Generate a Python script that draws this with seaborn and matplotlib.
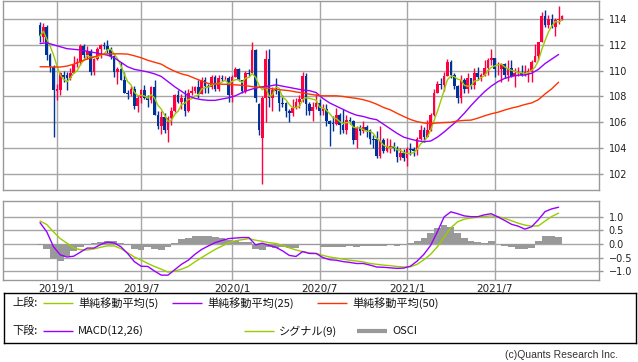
import numpy as np
import pandas as pd
import matplotlib
matplotlib.use('Agg')
import matplotlib.pyplot as plt
import seaborn as sns

# 週足 USD/JPY (2018/12/3 週 ～ 2021/11/22 週)
first_week = '2018-12-03'

opens = [
    113.5, 112.6, 113.4, 111.2, 110.3, 108.45, 108.5, 109.7, 109.7, 109.4,
    109.8, 110.5, 110.7, 111.9, 111.2, 111.5, 109.9, 110.9, 111.7, 112.0,
    111.9, 111.6, 111.1, 109.9, 110.1, 109.3, 108.3, 108.2, 108.6, 107.3,
    107.9, 108.5, 107.9, 107.7, 108.7, 106.6, 105.7, 106.4, 105.4, 106.3,
    106.9, 108.1, 107.6, 107.9, 106.9, 108.3, 108.4, 108.7, 108.2, 109.3,
    108.8, 108.7, 109.5, 108.6, 109.4, 109.4, 109.4, 108.1, 109.5, 110.1,
    109.3, 108.4, 109.8, 109.8, 111.6, 107.4, 104.8, 107.9, 110.9, 107.9,
    108.5, 108.4, 107.5, 107.5, 106.9, 106.7, 107.1, 107.6, 107.8, 109.6,
    107.4, 106.9, 107.2, 107.5, 106.9, 107.0, 106.1, 105.9, 105.9, 106.6,
    105.8, 105.4, 106.2, 106.1, 104.6, 105.6, 105.3, 105.6, 105.4, 104.7,
    104.7, 103.4, 104.6, 103.8, 104.1, 104.2, 104.0, 103.3, 103.6, 103.2,
    103.9, 103.9, 103.8, 104.7, 105.4, 104.9, 105.4, 106.6, 108.3, 109.0,
    108.9, 109.6, 110.7, 109.7, 108.8, 107.9, 109.3, 108.6, 109.4, 108.9,
    109.8, 109.5, 109.7, 110.2, 110.8, 111.0, 110.1, 110.1, 110.5, 109.7,
    110.2, 109.6, 109.8, 109.8, 109.7, 109.9, 109.9, 110.7, 111.1, 112.2,
    114.2, 113.5, 114.0, 113.4, 113.9, 114.0,
]
highs = [
    113.8, 113.7, 113.5, 111.4, 110.4, 109.0, 109.9, 110.0, 109.9, 110.2,
    111.1, 111.0, 112.1, 112.1, 111.9, 111.7, 111.0, 111.8, 112.1, 112.2,
    112.4, 111.8, 111.2, 110.3, 110.7, 109.9, 108.5, 108.8, 108.8, 108.1,
    108.6, 108.9, 108.1, 108.8, 109.3, 106.9, 106.9, 106.7, 106.5, 107.2,
    108.2, 108.5, 108.2, 108.5, 108.6, 108.8, 108.8, 109.3, 109.5, 109.5,
    109.0, 109.7, 109.7, 109.7, 109.7, 109.6, 109.6, 109.7, 110.3, 110.2,
    109.3, 110.0, 110.1, 112.2, 111.7, 107.5, 108.0, 111.6, 111.7, 108.7,
    109.4, 108.5, 108.1, 107.6, 107.0, 107.8, 107.9, 108.1, 109.9, 109.8,
    107.6, 107.6, 108.2, 107.8, 107.4, 107.4, 106.2, 106.5, 107.1, 106.7,
    107.0, 106.6, 106.4, 106.2, 105.7, 105.8, 106.1, 105.8, 105.5, 105.0,
    105.3, 105.7, 104.8, 104.8, 104.7, 104.5, 104.2, 104.0, 103.9, 104.1,
    104.4, 104.1, 104.9, 105.8, 105.6, 106.2, 106.7, 108.6, 109.2, 109.4,
    109.9, 110.9, 110.8, 109.8, 108.9, 109.7, 109.4, 109.8, 109.4, 110.2,
    110.3, 109.8, 110.8, 111.0, 111.7, 111.0, 110.7, 110.6, 110.6, 110.8,
    110.8, 110.2, 110.3, 110.4, 110.4, 110.2, 110.8, 112.1, 112.2, 114.5,
    114.7, 114.3, 114.4, 114.1, 115.0, 114.3,
]
lows = [
    112.2, 112.2, 110.8, 109.9, 104.9, 107.7, 108.1, 109.1, 108.5, 109.3,
    109.8, 110.3, 110.4, 111.0, 110.9, 109.7, 109.7, 110.8, 111.0, 111.7,
    111.4, 110.9, 109.5, 109.0, 109.3, 108.3, 107.8, 108.0, 107.0, 106.8,
    107.5, 107.8, 107.2, 107.5, 106.6, 105.5, 105.1, 105.2, 104.5, 105.8,
    106.8, 107.5, 107.0, 106.5, 106.8, 108.1, 108.3, 107.9, 108.2, 108.3,
    108.3, 108.6, 108.4, 108.4, 109.2, 109.3, 107.6, 107.6, 109.5, 109.2,
    108.3, 108.3, 109.6, 109.8, 107.6, 105.0, 101.2, 106.0, 107.2, 106.9,
    108.2, 106.9, 107.2, 106.4, 106.0, 106.5, 107.0, 107.1, 107.6, 106.6,
    106.6, 106.1, 107.0, 106.6, 106.6, 105.7, 104.2, 105.3, 105.8, 105.1,
    105.2, 105.1, 105.9, 104.3, 104.0, 105.0, 105.2, 104.9, 104.3, 104.0,
    103.2, 103.2, 103.6, 103.7, 103.6, 103.8, 102.9, 103.1, 103.0, 102.6,
    103.5, 103.4, 103.5, 104.6, 104.5, 104.9, 105.3, 106.5, 108.3, 108.6,
    108.4, 109.6, 109.4, 108.6, 107.5, 107.5, 108.3, 108.3, 108.6, 108.6,
    109.3, 109.2, 109.6, 109.7, 110.4, 109.5, 109.7, 109.1, 109.4, 109.2,
    109.5, 108.7, 109.6, 109.6, 109.6, 109.1, 109.1, 110.7, 110.8, 112.2,
    113.4, 113.3, 113.3, 112.7, 113.6, 113.9,
]
closes = [
    112.7, 113.4, 111.2, 110.3, 108.5, 108.55, 109.8, 109.5, 109.4, 109.8,
    110.5, 110.7, 111.9, 111.2, 111.5, 109.9, 110.9, 111.7, 112.0, 111.9,
    111.6, 111.1, 109.9, 110.1, 109.3, 108.3, 108.2, 108.6, 107.3, 107.9,
    108.5, 107.9, 107.7, 108.7, 106.6, 105.7, 106.4, 105.4, 106.3, 106.9,
    108.1, 107.6, 107.9, 106.9, 108.3, 108.4, 108.7, 108.2, 109.3, 108.8,
    108.7, 109.5, 108.6, 109.4, 109.35, 109.45, 108.1, 109.5, 110.1, 109.3,
    108.4, 109.8, 109.75, 111.6, 107.9, 105.4, 107.9, 110.9, 107.9, 108.5,
    108.4, 107.5, 107.45, 106.9, 106.7, 107.1, 107.6, 107.8, 109.6, 107.4,
    106.9, 107.2, 107.5, 106.9, 107.0, 106.1, 105.9, 105.85, 106.6, 105.8,
    105.4, 106.2, 106.1, 104.6, 105.6, 105.3, 105.6, 105.4, 104.7, 104.65,
    103.4, 104.6, 103.8, 104.1, 104.2, 104.0, 103.3, 103.6, 103.2, 103.9,
    103.85, 103.8, 104.7, 105.4, 104.9, 105.4, 106.6, 108.3, 109.0, 108.9,
    109.6, 110.7, 109.7, 108.8, 107.9, 109.3, 108.6, 109.4, 108.9, 109.8,
    109.5, 109.7, 110.2, 110.8, 111.0, 110.1, 110.15, 110.5, 109.7, 110.2,
    109.6, 109.8, 109.85, 109.7, 109.9, 109.95, 110.7, 111.1, 112.2, 114.2,
    113.5, 114.0, 113.4, 113.9, 114.0, 114.2,
]

# 2週ごとに読み取った指標値
ma25 = [
    112.1, 112.15, 112.0, 111.85, 111.7, 111.65, 111.6, 111.5, 111.4, 111.3,
    111.2, 111.0, 110.65, 110.3, 110.1, 110.0, 109.9, 109.75, 109.55, 109.15,
    108.75, 108.4, 108.05, 107.85, 107.75, 107.7, 107.7, 107.8, 107.9, 108.05,
    108.3, 108.5, 108.65, 108.75, 108.8, 108.9, 108.8, 108.7, 108.6, 108.5,
    108.45, 108.3, 107.85, 107.5, 107.25, 107.0, 106.75, 106.55, 106.45, 106.3,
    106.2, 105.85, 105.5, 105.15, 104.85, 104.7, 104.57, 104.5, 104.55, 104.85,
    105.25, 105.7, 106.15, 106.7, 107.3, 107.85, 108.37, 108.8, 109.15, 109.4,
    109.55, 109.65, 109.66, 109.8, 110.1, 110.55, 110.9, 111.25,
]
ma50 = [
    110.3, 110.3, 110.28, 110.28, 110.35, 110.5, 110.7, 110.9, 111.05, 111.25,
    111.3, 111.3, 111.3, 111.28, 111.15, 111.0, 110.8, 110.65, 110.5, 110.2,
    109.95, 109.75, 109.62, 109.4, 109.2, 109.0, 108.97, 108.95, 108.93, 108.9,
    108.86, 108.8, 108.73, 108.7, 108.63, 108.55, 108.5, 108.45, 108.35, 108.28,
    108.18, 108.1, 108.05, 108.05, 108.05, 108.0, 107.92, 107.85, 107.75, 107.6,
    107.4, 107.15, 106.97, 106.7, 106.45, 106.22, 106.05, 105.95, 105.9, 105.95,
    105.98, 106.0, 106.1, 106.15, 106.17, 106.32, 106.5, 106.66, 106.78, 106.95,
    107.1, 107.22, 107.38, 107.5, 107.75, 108.2, 108.6, 109.1,
]
macd = [
    0.79, 0.45, -0.1, -0.4, -0.48, -0.45, -0.3, -0.15, -0.15, -0.02,
    0.07, 0.04, -0.1, -0.35, -0.65, -0.82, -0.83, -1.0, -1.15, -1.15,
    -0.95, -0.75, -0.6, -0.38, -0.2, -0.07, 0.05, 0.13, 0.2, 0.22,
    0.24, 0.24, -0.03, 0.03, -0.05, -0.12, -0.25, -0.42, -0.46, -0.28,
    -0.35, -0.35, -0.5, -0.58, -0.6, -0.65, -0.68, -0.72, -0.72, -0.78,
    -0.85, -0.86, -0.88, -0.9, -0.89, -0.82, -0.63, -0.38, -0.05, 0.45,
    1.0, 1.19, 1.12, 1.04, 1.01, 1.01, 1.08, 1.12, 1.0, 0.87,
    0.73, 0.66, 0.55, 0.64, 0.9, 1.2, 1.3, 1.36,
]
signal = [
    0.85, 0.72, 0.45, 0.2, 0.03, -0.15, -0.21, -0.22, -0.18, -0.12,
    -0.07, -0.07, -0.17, -0.32, -0.48, -0.59, -0.72, -0.83, -0.93, -1.04,
    -1.0, -0.93, -0.83, -0.66, -0.5, -0.35, -0.2, -0.08, 0.05, 0.12,
    0.16, 0.2, 0.14, 0.1, 0.05, 0.02, -0.05, -0.14, -0.22, -0.28,
    -0.33, -0.35, -0.42, -0.48, -0.52, -0.56, -0.6, -0.63, -0.66, -0.72,
    -0.75, -0.78, -0.8, -0.83, -0.85, -0.84, -0.75, -0.58, -0.38, -0.1,
    0.25, 0.6, 0.82, 0.92, 0.96, 0.99, 1.02, 1.04, 1.01, 0.95,
    0.86, 0.77, 0.7, 0.66, 0.67, 0.85, 1.02, 1.14,
]
osci = [
    -0.05, -0.2, -0.55, -0.62, -0.45, -0.25, -0.1, -0.05, 0.04, 0.08,
    0.13, 0.12, 0.05, -0.05, -0.18, -0.23, -0.12, -0.18, -0.22, -0.11,
    0.05, 0.18, 0.23, 0.28, 0.3, 0.28, 0.25, 0.21, 0.15, 0.1,
    0.08, 0.06, -0.2, -0.22, -0.12, -0.14, -0.12, -0.15, -0.15, -0.02,
    -0.03, -0.03, -0.1, -0.12, -0.1, -0.1, -0.09, -0.1, -0.08, -0.08,
    -0.08, -0.06, -0.05, -0.06, -0.05, 0.02, 0.12, 0.22, 0.4, 0.58,
    0.72, 0.64, 0.42, 0.23, 0.12, 0.06, 0.05, 0.1, 0.0, -0.08,
    -0.12, -0.17, -0.2, -0.15, 0.1, 0.28, 0.28, 0.25,
]

tick_dates = ['2019-01-07', '2019-07-01', '2020-01-06', '2020-07-06', '2021-01-04', '2021-07-05']
tick_labels = ['2019/1', '2019/7', '2020/1', '2020/7', '2021/1', '2021/7']
price_ticks = [102, 104, 106, 108, 110, 112, 114]
macd_ticks = [-1.0, -0.5, 0.0, 0.5, 1.0]

UP, DOWN = '#FF0040', '#003399'
C_MA5, C_MA25, C_MA50 = '#99CC00', '#9900FF', '#FF3300'
GRAY, GRID = '#999999', '#A6A6A6'
JP_FONT = ['Noto Sans CJK JP', 'DejaVu Sans']

W, H = 638, 362


def px_rect(x0, y0, x1, y1):
    """ピクセル座標 (左上原点) から figure 座標の矩形へ。"""
    return [x0 / W, 1 - y1 / H, (x1 - x0) / W, (y1 - y0) / H]


weeks = pd.date_range(first_week, periods=len(closes), freq='7D')
df = pd.DataFrame({'date': weeks, 'open': opens, 'high': highs,
                   'low': lows, 'close': closes})
df['ma5'] = df['close'].rolling(5, min_periods=1).mean()
ind = pd.DataFrame({'date': weeks[::2], 'ma25': ma25, 'ma50': ma50,
                    'macd': macd, 'signal': signal, 'osci': osci})

sns.set_style('white')
plt.rcParams['font.family'] = ['DejaVu Sans']

fig = plt.figure(figsize=(W / 100, H / 100), dpi=100)
ax1 = fig.add_axes(px_rect(3, 1, 599, 190))
ax2 = fig.add_axes(px_rect(3, 201, 599, 280), sharex=ax1)

# ローソク足
up = df['close'] >= df['open']
colors = np.where(up, UP, DOWN)
ax1.vlines(df['date'], df['low'], df['high'], colors=colors, lw=1, zorder=2)
body = (df['close'] - df['open']).abs().clip(lower=0.06)
ax1.bar(df['date'], body, bottom=df[['open', 'close']].min(axis=1),
        width=5.5, color=colors, linewidth=0, zorder=3)

sns.lineplot(data=df, x='date', y='ma5', ax=ax1, color=C_MA5, lw=1, zorder=4)
sns.lineplot(data=ind, x='date', y='ma25', ax=ax1, color=C_MA25, lw=1, zorder=4)
sns.lineplot(data=ind, x='date', y='ma50', ax=ax1, color=C_MA50, lw=1, zorder=4)

# MACD
ax2.bar(ind['date'], ind['osci'], width=14, color=GRAY, linewidth=0, zorder=2)
sns.lineplot(data=ind, x='date', y='macd', ax=ax2, color=C_MA25, lw=1, zorder=4)
sns.lineplot(data=ind, x='date', y='signal', ax=ax2, color=C_MA5, lw=1, zorder=3)

x_left = weeks[0] - pd.Timedelta(weeks=11)
x_right = weeks[0] + pd.Timedelta(weeks=166)
ax1.set_xlim(x_left, x_right)
ax1.set_ylim(100.76, 115.39)
ax2.set_ylim(-1.33, 1.59)

for ax, yt in [(ax1, price_ticks), (ax2, macd_ticks)]:
    ax.set_xticks(pd.to_datetime(tick_dates))
    ax.set_yticks(yt)
    ax.yaxis.tick_right()
    ax.grid(True, color=GRID, lw=1)
    ax.set_axisbelow(True)
    ax.set_xlabel('')
    ax.set_ylabel('')
    ax.tick_params(axis='y', length=3, width=1, color=GRAY, labelsize=7,
                   pad=4, labelcolor='#222222')
    ax.tick_params(axis='x', length=0, labelsize=7.5, pad=3, labelcolor='#222222')
    for s in ax.spines.values():
        s.set_color(GRAY)
        s.set_linewidth(1)

ax2.set_xticklabels(tick_labels)
ax1.tick_params(axis='x', labelbottom=False)

# 凡例ボックス
axl = fig.add_axes(px_rect(4, 293, 636, 343))
axl.set_xlim(4, 636)
axl.set_ylim(343, 293)
axl.set_xticks([])
axl.set_yticks([])
for s in axl.spines.values():
    s.set_color('black')
    s.set_linewidth(1)

legend_rows = [
    (303, '上段:', [(43, C_MA5, 1, '単純移動平均(5)'),
                   (172, C_MA25, 1, '単純移動平均(25)'),
                   (317, C_MA50, 1, '単純移動平均(50)')]),
    (331, '下段:', [(43, C_MA25, 1, 'MACD(12,26)'),
                   (244, C_MA5, 1, 'シグナル(9)'),
                   (357, GRAY, 3, 'OSCI')]),
]
for y, head, items in legend_rows:
    axl.text(12, y, head, fontsize=8, va='center', family=JP_FONT, color='#111111')
    for x0, col, lw, label in items:
        axl.plot([x0, x0 + 30], [y, y], color=col, lw=lw, solid_capstyle='butt')
        axl.text(x0 + 35, y, label, fontsize=8, va='center', family=JP_FONT,
                 color='#111111')

fig.text(618 / W, 1 - 355 / H, '(c)Quants Research Inc.', ha='right', va='center',
         fontsize=7.5, color='#333333', family='Liberation Sans')

fig.savefig('out.png', dpi=100, facecolor='white')
